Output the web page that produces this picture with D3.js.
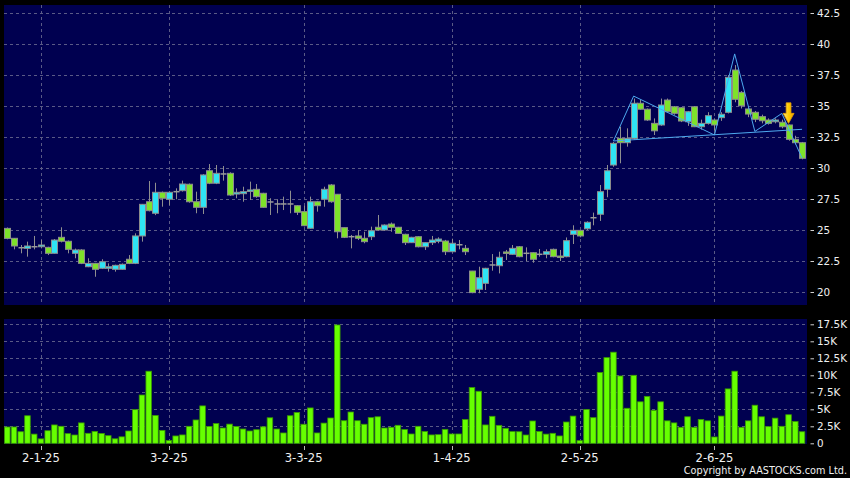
<!DOCTYPE html>
<html><head><meta charset="utf-8">
<script src="https://cdn.jsdelivr.net/npm/d3@7"></script>
<style>html,body{margin:0;padding:0;background:#000;}svg{display:block}</style>
</head><body><svg id="c" width="850" height="478"></svg>
<script>
// ---- data ----
const openP  = [25.13,24.33,23.57,23.52,23.65,23.65,23.6,23.12,24.41,24.09,23.12,23.39,22.04,22.31,21.91,21.91,21.83,21.83,22.64,22.31,24.52,27.28,26.35,28.04,27.48,28.09,28.17,28.69,27.28,26.83,29.78,28.77,29.52,29.57,27.9,27.93,28.12,28.28,27.96,27.26,27.1,27.1,27.1,26.96,26.48,25.14,27.28,27.48,28.63,27.88,25.19,24.46,24.52,24.33,24.46,25.22,25.0,25.48,25.22,24.65,23.98,24.46,23.65,23.98,24.09,24.11,23.25,23.81,23.52,21.69,20.22,20.7,22.18,22.12,23.23,23.04,23.65,23.12,23.17,23.04,23.04,23.44,22.9,22.85,24.65,24.97,25.1,25.99,26.27,28.28,30.24,32.39,32.04,32.39,35.22,34.74,33.6,33.47,35.48,34.94,34.86,33.73,34.94,33.33,33.6,33.87,34.06,34.49,37.9,36.1,34.76,34.49,34.14,33.87,33.73,33.69,33.47,32.31,32.04];
const highP  = [25.2,24.35,23.79,24.06,24.52,24.19,23.65,24.27,25.22,24.15,23.5,23.45,22.72,22.35,22.64,22.31,22.2,22.3,22.98,24.73,27.1,28.95,28.81,28.1,28.1,28.36,28.98,28.75,28.09,29.5,30.32,30.24,30.16,29.65,28.36,28.49,28.9,28.71,28.0,27.56,27.48,27.69,28.17,27.0,26.96,27.69,27.35,28.49,28.7,27.9,25.2,24.6,25.0,24.86,25.27,26.21,25.45,25.6,25.25,24.7,24.45,24.5,24.0,24.52,24.41,24.2,24.3,24.19,23.79,21.7,22.04,21.95,23.06,23.25,23.39,23.79,23.7,23.6,23.2,23.47,23.44,23.5,23.39,24.4,25.38,25.0,25.7,26.4,28.63,30.24,32.1,33.33,33.2,35.6,35.5,34.8,34.0,35.6,35.6,35.0,34.9,34.6,35.0,33.9,34.5,34.0,34.5,37.5,38.3,36.2,34.9,34.6,34.3,34.0,34.0,33.9,33.5,32.6,32.1];
const lowP   = [24.25,23.44,23.12,22.85,23.44,23.52,22.98,23.1,24.0,23.12,22.72,22.25,22.0,21.23,21.85,21.64,21.64,21.8,22.25,22.25,24.06,26.5,26.2,26.88,27.0,27.48,28.1,27.2,26.35,26.29,28.7,28.7,28.98,27.75,27.56,27.28,27.42,27.6,26.8,26.21,26.35,26.61,26.35,26.21,25.3,25.1,26.48,26.88,27.2,24.33,24.35,23.52,24.19,23.93,24.19,24.95,24.95,24.86,24.7,23.79,23.95,23.6,23.39,23.79,23.93,22.98,23.2,23.44,22.98,19.9,19.9,20.16,21.72,21.5,22.58,23.0,22.8,22.5,22.36,22.85,22.72,22.8,22.5,22.8,23.87,24.41,25.0,25.38,25.73,27.64,30.1,30.38,31.72,32.3,34.7,33.8,32.66,33.4,34.5,34.3,33.7,33.4,33.3,33.1,33.5,33.0,33.8,34.4,35.3,34.8,34.1,33.7,33.6,33.5,33.6,33.2,32.2,31.9,30.7];
const closeP = [24.32,23.71,23.57,23.71,23.65,23.79,23.12,24.19,24.09,23.44,23.39,22.31,22.31,21.83,22.44,22.04,22.15,22.23,22.31,24.52,27.07,26.56,28.04,27.56,28.04,28.09,28.71,27.28,26.83,29.44,28.77,29.57,29.52,27.82,28.04,28.09,28.23,27.69,26.83,27.26,27.1,27.1,27.1,26.43,25.35,27.28,26.96,28.28,27.28,24.86,24.41,24.46,24.33,24.06,24.94,25.0,25.4,25.22,24.73,23.98,24.41,23.65,23.98,24.19,24.27,23.25,23.93,23.81,23.25,19.95,21.15,21.91,22.18,22.8,23.17,23.52,22.85,23.12,22.64,23.04,23.25,22.85,22.8,24.14,24.97,24.52,25.62,25.99,28.09,29.78,31.99,32.04,32.39,35.22,34.74,33.87,33.0,35.08,34.54,34.41,33.79,34.54,33.33,33.6,34.22,33.47,34.33,37.31,35.54,35.02,34.35,33.93,33.81,33.6,33.87,33.33,32.31,32.04,30.78];
const volumeK = [2.4,2.4,1.7,4.05,1.35,0.65,1.85,2.7,2.5,1.42,1.22,3.0,1.47,1.75,1.45,1.12,0.66,0.95,1.81,4.95,7.1,10.6,4.1,1.9,0.4,1.08,1.23,2.5,3.43,5.5,2.47,2.9,2.25,2.82,2.47,2.1,1.81,2.0,2.42,3.75,2.1,1.52,4.05,4.53,2.8,5.2,1.52,2.97,3.72,17.4,3.32,4.6,3.32,2.8,3.77,3.9,2.25,2.35,2.65,2.03,1.37,2.5,1.73,1.23,1.27,2.05,1.37,1.37,3.5,8.2,7.65,2.7,3.97,2.64,2.2,1.72,1.7,1.22,3.28,1.74,1.35,1.47,1.08,3.13,4.0,0.39,4.97,3.77,10.4,12.6,13.4,9.9,5.15,10.0,6.1,6.9,4.85,6.1,3.3,3.0,2.35,3.9,2.35,3.5,3.3,0.93,4.0,8.0,10.6,2.35,3.3,5.6,3.9,2.45,3.7,2.5,4.2,3.2,1.7];
const dateTickIndex = [5,24,44,66,85,105];
const dateTickLabels = ["2-1-25","3-2-25","3-3-25","1-4-25","2-5-25","2-6-25"];
const priceTicks = [20,22.5,25,27.5,30,32.5,35,37.5,40,42.5];
const volumeTicks = [0,2.5,5,7.5,10,12.5,15,17.5];
const volumeTickLabels = ["0","2.5K","5K","7.5K","10K","12.5K","15K","17.5K"];
const patternPoints = [[90,32.18],[93,35.8],[105,32.66],[108,39.2],[111,32.95],[115,34.4],[118,30.8]];
const necklinePoints = [[90,32.18],[118,33.12]];
const arrowPoint = [116,33.6];
const copyright = "Copyright by AASTOCKS.com Ltd.";

// ---- layout / styles ----
const W=850,H=478;
const plotL=4, plotR=807;
const priceTop=5, priceBot=305, volTop=319, volBot=444;
const bg="#000050", grid="#5a5a86", upCol="#2fe4f4", downCol="#7ee22a", edge="#8c8c8c";
const font="DejaVu Sans, Verdana, sans-serif";

const svg=d3.select("#c");
svg.append("rect").attr("width",W).attr("height",H).attr("fill","#000");
svg.append("rect").attr("x",plotL).attr("y",priceTop).attr("width",plotR-plotL).attr("height",priceBot-priceTop).attr("fill",bg);
svg.append("rect").attr("x",plotL).attr("y",volTop).attr("width",plotR-plotL).attr("height",volBot-volTop).attr("fill",bg);

const n=volumeK.length;
const x=d3.scaleBand().domain(d3.range(n)).range([3.9,805.4]).padding(0);
const cx=i=>x(i)+x.step()/2;
const y=d3.scaleLinear().domain([20,42.5]).range([292,13]);
const yv=d3.scaleLinear().domain([0,17.5]).range([443.3,324.3]);

// gridlines
const g=svg.append("g").attr("stroke",grid).attr("stroke-dasharray","3,3").attr("stroke-width",1);
g.selectAll(".hp").data(priceTicks).enter().append("line")
  .attr("x1",plotL).attr("x2",plotR).attr("y1",d=>Math.round(y(d))+0.5).attr("y2",d=>Math.round(y(d))+0.5);
g.selectAll(".hv").data(volumeTicks.slice(1)).enter().append("line")
  .attr("x1",plotL).attr("x2",plotR).attr("y1",d=>Math.round(yv(d))+0.5).attr("y2",d=>Math.round(yv(d))+0.5);
g.selectAll(".vp").data(dateTickIndex).enter().append("line")
  .attr("x1",d=>Math.round(cx(d))+0.5).attr("x2",d=>Math.round(cx(d))+0.5).attr("y1",priceTop).attr("y2",priceBot);
g.selectAll(".vv").data(dateTickIndex).enter().append("line")
  .attr("x1",d=>Math.round(cx(d))+0.5).attr("x2",d=>Math.round(cx(d))+0.5).attr("y1",volTop).attr("y2",volBot);

// candles
const idx=d3.range(n);
const cg=svg.append("g");
cg.selectAll(".wick").data(idx).enter().append("line")
  .attr("x1",i=>Math.round(cx(i))+0.5).attr("x2",i=>Math.round(cx(i))+0.5)
  .attr("y1",i=>y(highP[i])).attr("y2",i=>y(lowP[i]))
  .attr("stroke","#8f8f8f").attr("stroke-width",1);
cg.selectAll(".body").data(idx.filter(i=>openP[i]!==closeP[i])).enter().append("rect")
  .attr("x",i=>Math.round(cx(i))-2.5).attr("width",6)
  .attr("y",i=>y(Math.max(openP[i],closeP[i])))
  .attr("height",i=>Math.max(1.5,Math.abs(y(openP[i])-y(closeP[i]))))
  .attr("fill",i=>closeP[i]>openP[i]?upCol:downCol)
  .attr("stroke",edge).attr("stroke-width",1);
cg.selectAll(".doji").data(idx.filter(i=>openP[i]===closeP[i])).enter().append("line")
  .attr("x1",i=>Math.round(cx(i))-2.5).attr("x2",i=>Math.round(cx(i))+3.5)
  .attr("y1",i=>y(openP[i])).attr("y2",i=>y(openP[i]))
  .attr("stroke","#9a9a9a").attr("stroke-width",1.5);

// pattern lines
const line=d3.line().x(d=>cx(d[0])).y(d=>y(d[1]));
svg.append("path").attr("d",line(patternPoints)).attr("fill","none").attr("stroke","#4ea9ee").attr("stroke-width",1);
svg.append("path").attr("d",line(necklinePoints)).attr("fill","none").attr("stroke","#4ea9ee").attr("stroke-width",1);

// arrow
const defs=svg.append("defs");
const grad=defs.append("linearGradient").attr("id","ag").attr("x1",0).attr("x2",1).attr("y1",0).attr("y2",0);
grad.append("stop").attr("offset","0").attr("stop-color","#ffe680");
grad.append("stop").attr("offset","0.5").attr("stop-color","#ffcc00");
grad.append("stop").attr("offset","1").attr("stop-color","#f0a000");
const ax=cx(arrowPoint[0]), ay=y(arrowPoint[1]);
svg.append("path")
  .attr("d",`M${ax},${ay} L${ax-5.5},${ay-10} L${ax-2.4},${ay-10} L${ax-2.4},${ay-20.5} L${ax+2.4},${ay-20.5} L${ax+2.4},${ay-10} L${ax+5.5},${ay-10} Z`)
  .attr("fill","url(#ag)").attr("stroke","#e8a000").attr("stroke-width",0.8);

// volume bars
svg.append("g").selectAll("rect").data(idx).enter().append("rect")
  .attr("x",i=>x(i)+0.6).attr("width",x.step()-1.2)
  .attr("y",i=>yv(volumeK[i])).attr("height",i=>yv(0)-yv(volumeK[i]))
  .attr("fill","#66ff00").attr("stroke","#3a9a00").attr("stroke-width",0.8);

// right axes
const ra=svg.append("g").attr("fill","#f0f0f0").attr("font-family",font).attr("font-size","10.4px");
priceTicks.forEach(v=>{
  ra.append("line").attr("x1",810.5).attr("x2",814).attr("y1",y(v)+0.5).attr("y2",y(v)+0.5).attr("stroke","#d0d0d0");
  ra.append("text").attr("x",817).attr("y",y(v)+3.8).text(v);
});
volumeTicks.forEach((v,k)=>{
  ra.append("line").attr("x1",810.5).attr("x2",814).attr("y1",yv(v)+0.5).attr("y2",yv(v)+0.5).attr("stroke","#d0d0d0");
  ra.append("text").attr("x",817).attr("y",yv(v)+4).text(volumeTickLabels[k]);
});

// date axis
const da=svg.append("g");
dateTickIndex.forEach((d,k)=>{
  da.append("line").attr("x1",Math.round(cx(d))+0.5).attr("x2",Math.round(cx(d))+0.5).attr("y1",446).attr("y2",450).attr("stroke","#bbbbbb");
  da.append("text").attr("x",cx(d)).attr("y",462).attr("text-anchor","middle")
    .attr("fill","#f0f0f0").attr("font-family",font).attr("font-size","11.6px").text(dateTickLabels[k]);
});
svg.append("text").attr("x",847).attr("y",474).attr("text-anchor","end").attr("fill","#f0f0f0")
  .attr("font-family",font).attr("font-size","9.7px").text(copyright);
</script></body></html>
